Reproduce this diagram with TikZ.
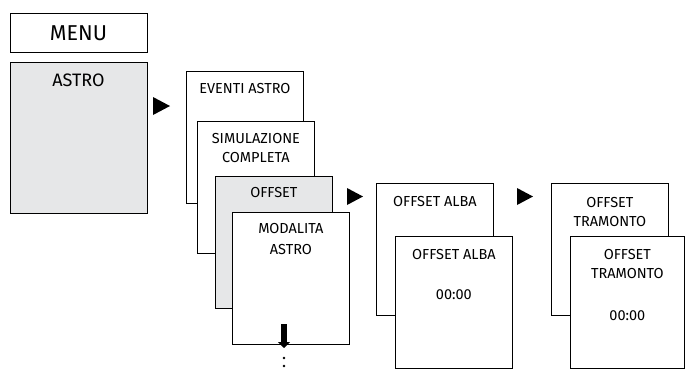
\documentclass[tikz,border=0pt]{standalone}
\usepackage{fontspec}
\setmainfont{Fira Sans}
\usetikzlibrary{arrows.meta}
\definecolor{panelgray}{HTML}{E6E7E8}
\tikzset{
  scr/.style={draw=black, line width=0.8pt, fill=white, rectangle, anchor=north west, inner sep=0pt, minimum width=117pt, minimum height=132pt},
  grayscr/.style={scr, fill=panelgray},
  lbl/.style={anchor=base, inner sep=0pt, font=\fontsize{14.5}{19}\selectfont, align=center},
  tri/.style={fill=black},
}
\begin{document}
\begin{tikzpicture}[x=1pt,y=-1pt]
\useasboundingbox (0,0) rectangle (685,373);
% menu
\node[scr, minimum width=137pt, minimum height=39pt] (menu) at (10,13) {};
\node[lbl, font=\fontsize{21.5}{24}\selectfont] (menut) at (78.5,40) {MENU};
\node[grayscr, minimum width=137pt, minimum height=151pt] (astro) at (10,62) {};
\node[lbl, font=\fontsize{18}{20}\selectfont] (astrot) at (78.5,86) {ASTRO};
\fill[tri] (153,97) -- (170,106) -- (153,115) -- cycle;
% first stack
\node[scr] (ev) at (186,71) {};
\node[lbl] (evt) at (ev.north |- 0,93) {EVENTI ASTRO};
\node[scr] (sim) at (197,121) {};
\node[lbl] (simt) at (sim.north |- 0,143) {SIMULAZIONE};
\node[lbl] (simt2) at (sim.north |- 0,162) {COMPLETA};
\node[grayscr] (off) at (215,176) {};
\node[lbl] (offt) at (off.north |- 0,197) {OFFSET};
\node[scr] (mod) at (232,212) {};
\node[lbl] (modt) at (mod.north |- 0,233) {MODALITA};
\node[lbl] (modt2) at (mod.north |- 0,254) {ASTRO};
\coordinate (dn) at (284,348);
\draw[line width=6pt, -{Triangle[width=12pt,length=6pt]}] (284,324) -- (dn);
\fill (284,358) circle (1.4pt) (284,366) circle (1.4pt);
\fill[tri] (347,188) -- (363,196.5) -- (347,205) -- cycle;
% offset alba
\node[scr] (ab) at (376,183) {};
\node[lbl] (abt) at (ab.north |- 0,206) {OFFSET ALBA};
\node[scr] (af) at (395,236) {};
\node[lbl] (aft) at (af.north |- 0,259) {OFFSET ALBA};
\node[lbl] (afv) at (af.north |- 0,299) {00:00};
\fill[tri] (517,188) -- (533,196.5) -- (517,205) -- cycle;
% offset tramonto
\node[scr] (tb) at (551,183) {};
\node[lbl] (tbt) at (tb.north |- 0,207) {OFFSET};
\node[lbl] (tbt2) at (tb.north |- 0,226) {TRAMONTO};
\node[scr, minimum width=114pt] (tf) at (570,236) {};
\node[lbl] (tft) at (tf.north |- 0,259) {OFFSET};
\node[lbl] (tft2) at (tf.north |- 0,278) {TRAMONTO};
\node[lbl] (tfv) at (tf.north |- 0,320) {00:00};
\end{tikzpicture}
\end{document}
